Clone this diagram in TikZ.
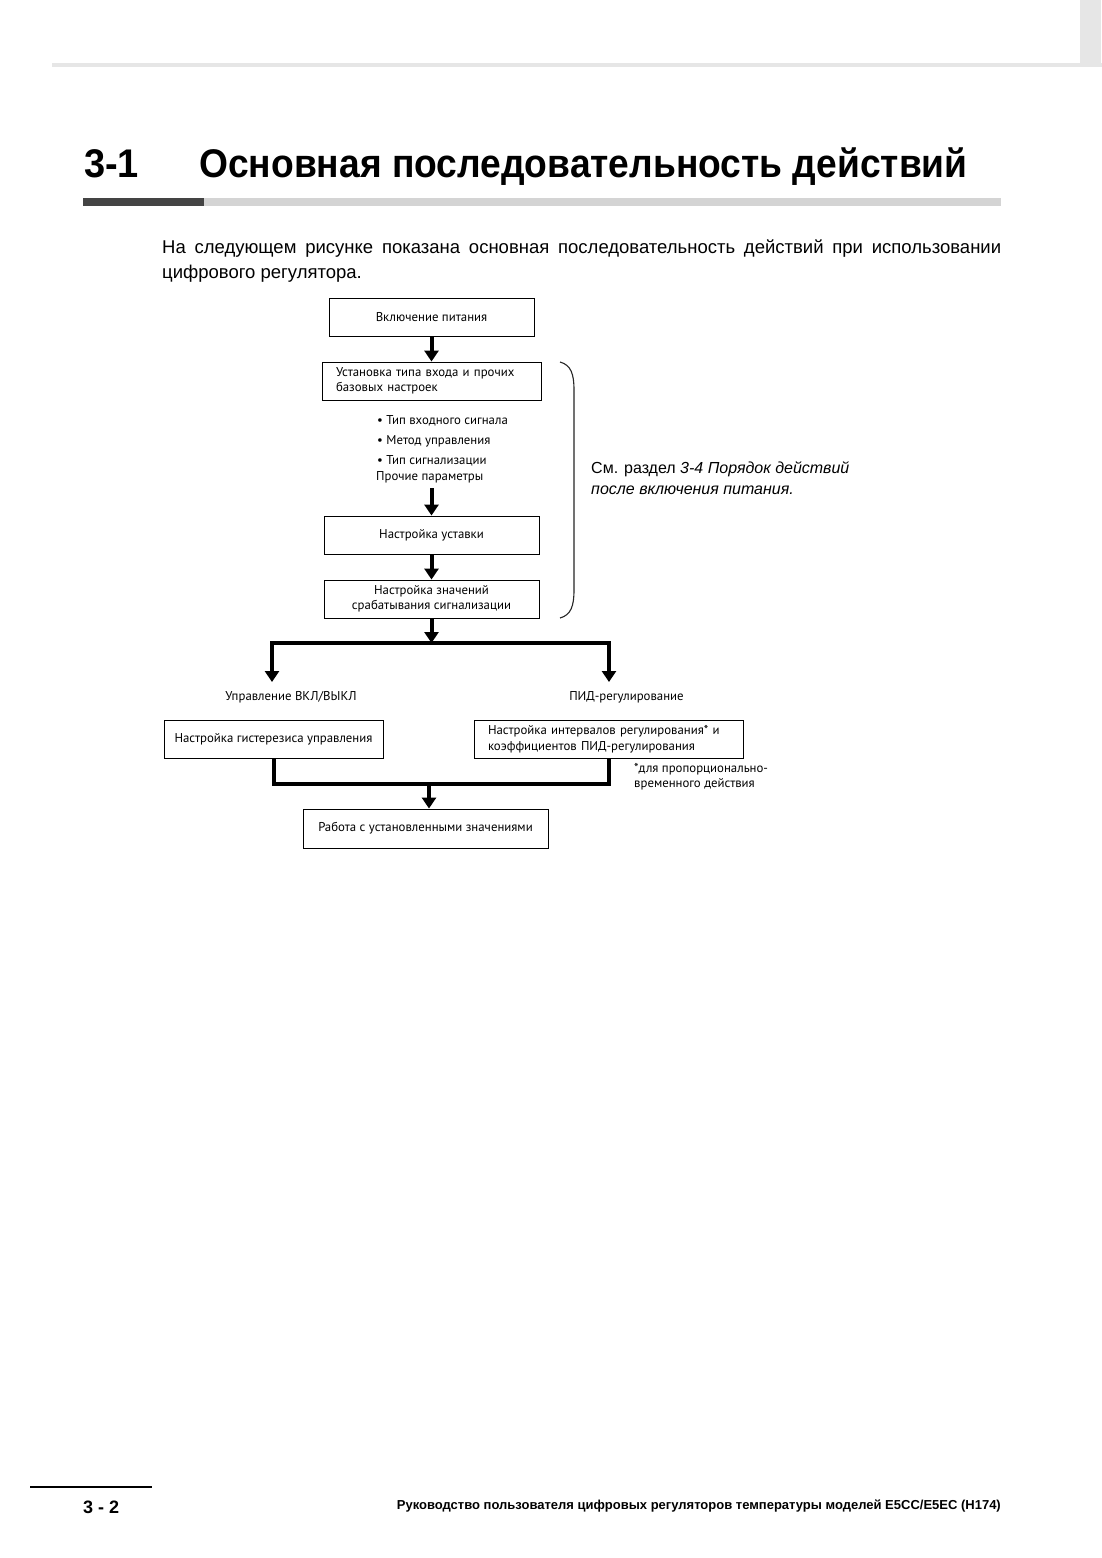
\documentclass[tikz,border=0pt]{standalone}
\usepackage{fontspec}
\setmainfont{Liberation Sans}
\newfontfamily\flowfont{PT Sans}
\usetikzlibrary{arrows.meta}
\definecolor{hdrgrey}{HTML}{E6E6E6}
\definecolor{bardark}{HTML}{444444}
\definecolor{barlight}{HTML}{D4D4D4}
\begin{document}
\begin{tikzpicture}[x=1pt,y=-1pt,
  box/.style={draw, line width=0.9pt, inner sep=0pt, font=\flowfont\fontsize{12.8}{15.5}\selectfont},
  lbl/.style={inner sep=0pt, font=\flowfont\fontsize{12.8}{15.5}\selectfont},
  conn/.style={line width=4pt},
  arr/.style={line width=4pt, -{Triangle[width=14pt,length=11pt]}},
  brace/.style={line width=1.1pt, draw=black!85}
]
\useasboundingbox[fill=white] (0,0) rectangle (1102,1558);
% header
\fill[hdrgrey] (52,63) rectangle (1102,67);
\fill[hdrgrey] (1080,0) rectangle (1101,63);
% title
\node[anchor=base west, inner sep=0pt, font=\bfseries\fontsize{40}{44}\selectfont] (num) at (84,177) {\scalebox{0.95}[1]{3-1}};
\node[anchor=base west, inner sep=0pt, font=\bfseries\fontsize{40}{44}\selectfont] (title) at (199,177) {\scalebox{0.93}[1]{Основная последовательность действий}};
\fill[bardark] (83,198) rectangle (204,206);
\fill[barlight] (204,198) rectangle (1001,206);
% paragraph
\node[anchor=base west, inner sep=0pt, font=\fontsize{18.5}{21}\selectfont] (p1) at (162,253) {\makebox[839pt][s]{На следующем рисунке показана основная последовательность действий при использовании}};
\node[anchor=base west, inner sep=0pt, font=\fontsize{18.5}{21}\selectfont] (p2) at (162,278) {цифрового регулятора.};
% flow boxes
\node[box, minimum width=205pt, minimum height=38pt] (b1) at (431.5,317) {Включение питания};
\node[box, minimum width=219pt, minimum height=38pt, text width=191pt, align=left] (b2) at (431.5,381) {Установка типа входа и прочих\\базовых настроек};
\node[lbl, anchor=base west] (l1) at (377,424) {\textbullet\ Тип входного сигнала};
\node[lbl, anchor=base west] (l2) at (377,444) {\textbullet\ Метод управления};
\node[lbl, anchor=base west] (l3) at (377,464) {\textbullet\ Тип сигнализации};
\node[lbl, anchor=base west] (l4) at (376,480) {Прочие параметры};
\coordinate (lst) at (431.5,488);
\node[box, minimum width=215pt, minimum height=38pt] (b4) at (431.5,535) {Настройка уставки};
\node[box, minimum width=215pt, minimum height=38pt, align=center] (b5) at (431.5,599) {Настройка значений\\срабатывания сигнализации};
\coordinate (jc) at (431.5,643);
\coordinate (jl) at (272,643);
\coordinate (jr) at (609,643);
\coordinate (al) at (272,682);
\coordinate (ar) at (609,682);
\node[lbl] (onoff) at (291,697) {Управление ВКЛ/ВЫКЛ};
\node[lbl] (pid) at (626.5,697) {ПИД-регулирование};
\node[box, minimum width=219pt, minimum height=38pt] (b6) at (273.5,739) {Настройка гистерезиса управления};
\node[box, minimum width=269pt, minimum height=38pt, text width=241pt, align=left] (b7) at (608.5,739) {Настройка интервалов регулирования* и\\коэффициентов ПИД-регулирования};
\node[lbl, anchor=north west, align=left] (fn) at (634,763) {*для пропорционально-\\временного действия};
\coordinate (jm) at (429,784);
\node[box, minimum width=245pt, minimum height=39pt] (b8) at (425.5,828.5) {Работа с установленными значениями};
% connectors
\draw[arr] (b1.south) -- (b2.north);
\draw[arr] (lst) -- (b4.north);
\draw[arr] (b4.south) -- (b5.north);
\draw[arr] (b5.south) -- (jc);
\draw[conn] ([xshift=-2pt]jl) -- ([xshift=2pt]jr);
\draw[arr] ([yshift=2pt]jl) -- (al);
\draw[arr] ([yshift=2pt]jr) -- (ar);
\draw[conn] (b6.south) |- (jm) -| (b7.south);
\draw[arr] ([yshift=2pt]jm) -- (jm |- b8.north);
% brace
\draw[brace] (560,362) .. controls (571,365) and (574,374) .. (574,390) -- (574,590) .. controls (574,606) and (571,615) .. (560,618);
\node[anchor=base west, inner sep=0pt, font=\fontsize{16}{21}\selectfont, align=left] (ref) at (591,494) {См. раздел \textit{3-4 Порядок действий}\\\textit{после включения питания.}};
% footer
\draw[line width=2.5pt] (30,1487) -- (152,1487);
\node[anchor=base west, inner sep=0pt, font=\bfseries\fontsize{18}{20}\selectfont] (pg) at (83,1513) {3 - 2};
\node[anchor=base east, inner sep=0pt, font=\bfseries\fontsize{13}{15}\selectfont] (foot) at (1001,1509) {Руководство пользователя цифровых регуляторов температуры моделей E5CC/E5EC (H174)};
\end{tikzpicture}
\end{document}
